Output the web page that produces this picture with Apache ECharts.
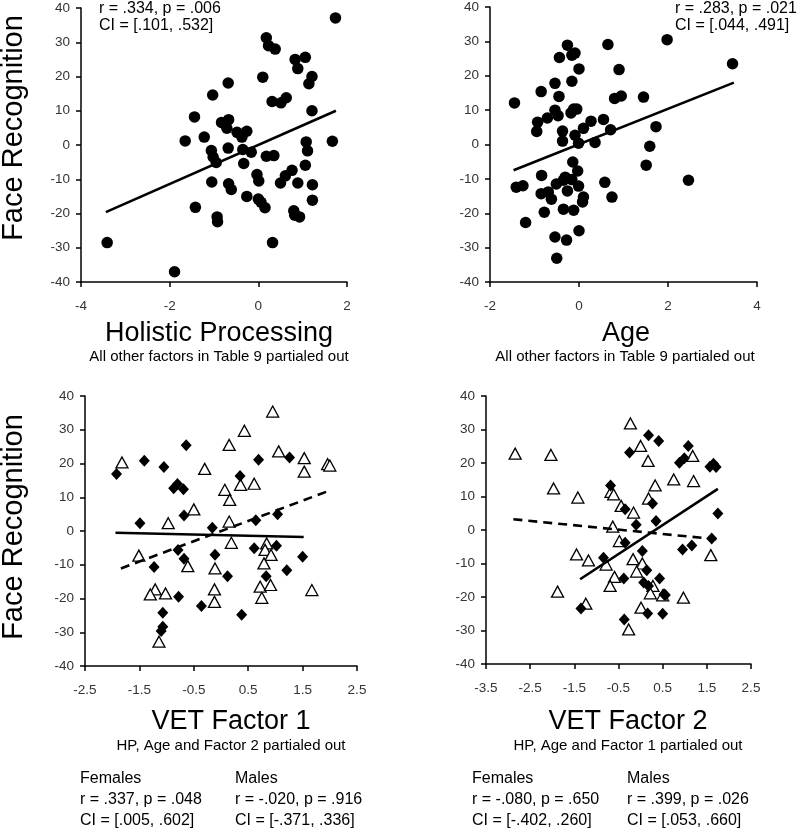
<!DOCTYPE html>
<html><head><meta charset="utf-8">
<script src="https://cdn.jsdelivr.net/npm/echarts@6/dist/echarts.min.js"></script>
<style>html,body{margin:0;padding:0;background:#fff}#c{width:800px;height:834px}</style>
</head><body><div id="c"></div>
<script>
// ---- Panel 1: Holistic Processing ----
const hpX = [-3.41,-1.89,1.74,0.18,0.23,0.38,0.10,0.83,0.89,1.06,1.21,1.14,0.31,0.51,0.63,1.21,-0.68,-1.03,-1.44,-1.65,-1.22,-0.83,-0.67,-0.71,-0.48,-0.37,-0.26,-1.06,-1.02,-0.95,-0.68,-0.35,-0.16,-0.33,-1.05,-0.67,-0.61,-0.26,-1.42,-0.93,-0.92,-0.03,0.01,0.00,0.06,0.15,0.18,0.35,0.32,0.50,0.61,0.76,0.89,0.80,0.82,0.93,1.08,1.11,1.06,1.22,1.22,1.67];
const hpY = [-28.5,-37.0,37.1,31.3,29.0,28.0,19.8,25.0,22.3,25.6,20.0,17.9,12.7,12.3,13.8,10.0,18.1,14.6,8.2,1.2,2.3,6.6,7.4,4.9,3.7,2.3,4.0,-1.6,-3.5,-5.1,-0.9,-1.3,-2.1,-5.4,-10.8,-11.3,-13.0,-15.0,-18.2,-21.0,-22.4,-8.6,-10.5,-15.8,-16.7,-18.3,-3.3,-3.1,-28.5,-11.1,-9.0,-7.4,-11.1,-19.2,-20.5,-21.0,0.9,-1.7,-5.9,-11.6,-16.1,1.1];
const hpFitX = [-3.44, 1.75];
const hpFitY = [-19.6, 10.0];

// ---- Panel 2: Age ----
const ageX = [-1.45,-1.41,-1.26,-1.20,-0.85,-0.93,-0.95,-0.71,-0.54,-0.47,-0.54,-0.45,-0.44,-0.26,-0.16,-0.09,-0.16,0.00,-0.18,-0.12,-0.05,-0.37,-0.37,-0.09,-0.01,0.10,0.27,0.36,0.55,0.71,0.65,0.80,0.95,0.90,1.45,1.73,1.59,1.51,1.98,2.46,3.45,-0.84,-0.85,-0.69,-0.62,-0.78,-0.51,-0.31,-0.35,-0.26,-0.16,-0.14,-0.03,-0.01,0.10,0.08,-0.35,-0.12,-0.54,-0.28,0.00,-0.50,0.58,0.74];
const ageY = [12.1,-12.4,-12.0,-22.7,15.4,6.5,3.8,7.7,10.0,8.4,17.8,14.0,25.3,28.9,26.0,26.6,18.4,22.0,9.2,10.3,10.3,3.9,1.0,2.7,0.4,4.7,6.8,0.6,7.3,4.3,29.1,13.4,14.1,21.8,13.8,5.2,-0.5,-6.0,30.5,-10.4,23.5,-9.0,-14.3,-13.8,-15.9,-19.7,-11.5,-9.5,-10.4,-13.5,-10.2,-5.1,-7.7,-12.1,-15.3,-16.7,-18.8,-19.1,-26.9,-27.8,-25.1,-33.1,-11.0,-15.3];
const ageFitX = [-1.47, 3.48];
const ageFitY = [-7.5, 18.0];

// ---- Panel 3: VET Factor 1 ----
const f1FemX = [-1.82,-1.51,-0.97,-0.50,-0.61,-0.30,-0.11,0.15,0.43,0.07,0.16,0.36,0.15,0.19,0.61,0.95,1.06,1.53,1.53,1.96,2.00,0.84,0.81,0.92,0.79,1.67,-1.21,-1.30,-1.02,-1.14,-0.12,-0.12,0.72,0.91,0.75];
const f1FemY = [20.3,-7.3,2.3,6.4,-10.4,18.4,-11.1,25.5,29.7,12.2,9.2,13.7,2.8,-3.5,14.0,35.4,23.6,21.6,17.6,19.8,19.4,-3.7,-5.6,-7.1,-9.6,-17.5,-17.3,-18.8,-18.5,-32.8,-17.3,-21.0,-16.5,-16.0,-19.8];
const f1MaleX = [-1.92,-1.41,-1.49,-1.05,-0.87,-0.80,-0.69,-0.64,-0.68,-0.79,-0.68,-1.23,-0.16,-0.11,0.35,0.69,0.64,0.61,1.04,1.26,1.02,1.50,1.21,0.83,0.12,-0.78,-0.36,-1.07,0.38,-1.07,-1.10];
const f1MaleY = [16.9,20.8,2.3,19.0,12.7,13.9,12.4,25.4,4.6,-5.6,-8.2,-10.7,1.0,-7.0,16.3,21.1,3.2,-5.1,5.0,21.8,-4.4,-7.6,-11.6,-13.4,-13.4,-19.5,-22.2,-24.2,-24.8,-28.4,-29.6];
const f1FemFitX = [-1.84, 2.0];
const f1FemFitY = [-11.1, 12.0];
const f1MaleFitX = [-1.94, 1.52];
const f1MaleFitY = [-0.5, -1.8];

// ---- Panel 4: VET Factor 2 ----
const f2FemX = [-2.84,-2.03,-1.97,-1.42,-0.23,0.00,0.17,1.18,-0.67,-0.61,-0.44,-0.16,0.18,0.33,0.75,1.20,-0.63,-0.48,-1.45,-1.18,-0.78,-0.17,0.04,-0.09,1.59,-0.59,-0.69,-1.88,-1.24,0.01,0.28,0.22,0.50,0.97,-0.27];
const f2FemY = [22.8,22.4,12.4,9.7,31.8,25.1,20.6,22.1,11.4,10.6,7.2,5.2,9.4,13.3,15.1,14.6,1.0,-3.3,-7.3,-9.1,-10.3,-8.7,-10.0,-12.4,-7.5,-14.0,-16.7,-18.4,-22.0,-23.2,-16.7,-18.9,-19.5,-20.2,-29.7];
const f2MaleX = [-0.68,-0.35,-0.25,0.18,0.41,0.27,-0.10,0.35,-0.35,-0.84,0.04,0.14,0.43,-0.38,0.07,0.18,0.56,0.88,0.99,1.08,1.57,1.65,1.71,1.75,0.95,1.16,1.61,-1.35,0.16,0.50,-0.37,0.53];
const f2MaleY = [13.3,6.2,23.1,28.3,26.6,7.9,1.6,2.7,-3.8,-8.3,-6.3,-12.0,-14.5,-14.5,-15.7,-16.7,-19.4,20.1,21.4,25.1,18.9,19.8,18.8,4.9,-5.8,-4.6,-2.5,-23.4,-24.9,-25.0,-26.7,-19.2];
const f2FemFitX = [-2.88, 1.75];
const f2FemFitY = [3.2, -2.8];
const f2MaleFitX = [-1.37, 1.75];
const f2MaleFitY = [-14.7, 12.3];

// ---- Axes ticks ----
const yRange = [-40, 40], yStep = 10;
const hpXRange = [-4, 2], hpXStep = 2;
const ageXRange = [-2, 4], ageXStep = 2;
const f1XRange = [-2.5, 2.5], f1XStep = 1;
const f2XRange = [-3.5, 2.5], f2XStep = 1;

// ---- Texts ----
const yTitle = 'Face Recognition';
const titles = ['Holistic Processing', 'Age', 'VET Factor 1', 'VET Factor 2'];
const subtitles = ['All other factors in Table 9 partialed out', 'All other factors in Table 9 partialed out',
  'HP, Age and Factor 2 partialed out', 'HP, Age and Factor 1 partialed out'];
const statsTop = [['r = .334, p = .006', 'CI = [.101, .532]'], ['r = .283, p = .021', 'CI = [.044, .491]']];
const statsBottom = [
  [['Females', 'r = .337, p = .048', 'CI = [.005, .602]'], ['Males', 'r = -.020, p = .916', 'CI = [-.371, .336]']],
  [['Females', 'r = -.080, p = .650', 'CI = [-.402, .260]'], ['Males', 'r = .399, p = .026', 'CI = [.053, .660]']]
];

const zip = (a, b) => a.map((v, i) => [v, b[i]]);
const FONT = 'Liberation Sans, Arial, sans-serif';

const grids = [
  {left: 81, top: 8, width: 266, height: 274},
  {left: 490, top: 7, width: 267, height: 275},
  {left: 85, top: 396, width: 272, height: 270},
  {left: 486, top: 396, width: 265, height: 268}
];
const xr = [[hpXRange, hpXStep], [ageXRange, ageXStep], [f1XRange, f1XStep], [f2XRange, f2XStep]];

function axisCommon() {
  return {
    type: 'value',
    axisLine: {show: true, onZero: false, lineStyle: {color: '#000', width: 1.5}},
    axisTick: {show: true, length: 5, lineStyle: {color: '#000', width: 1.5}},
    splitLine: {show: false}
  };
}
const xAxes = xr.map((r, i) => Object.assign(axisCommon(), {
  gridIndex: i, min: r[0][0], max: r[0][1], interval: r[1],
  axisLabel: {color: '#333', fontSize: 13.5, fontFamily: FONT, margin: 17, showMinLabel: true, showMaxLabel: true}
}));
const yAxes = grids.map((g, i) => Object.assign(axisCommon(), {
  gridIndex: i, min: yRange[0], max: yRange[1], interval: yStep,
  axisLabel: {color: '#333', fontSize: 13.5, fontFamily: FONT, margin: 11}
}));

function scatter(i, x, y, kind) {
  const s = {type: 'scatter', xAxisIndex: i, yAxisIndex: i, data: zip(x, y), z: 2};
  if (kind === 'circle') { s.symbol = 'circle'; s.symbolSize = 11.5; s.itemStyle = {color: '#000', opacity: 1}; }
  if (kind === 'diamond') { s.symbol = 'diamond'; s.symbolSize = [11, 12]; s.itemStyle = {color: '#000', opacity: 1}; }
  if (kind === 'triangle') { s.symbol = 'triangle'; s.symbolSize = [12, 11]; s.itemStyle = {color: '#fff', borderColor: '#000', borderWidth: 1.3, opacity: 1}; }
  return s;
}
function fit(i, x, y, dashed) {
  return {type: 'line', xAxisIndex: i, yAxisIndex: i, data: zip(x, y), symbol: 'none', z: 3,
    lineStyle: {color: '#000', width: 2.6, type: dashed ? [9, 6] : 'solid'}};
}

const series = [
  scatter(0, hpX, hpY, 'circle'), fit(0, hpFitX, hpFitY, false),
  scatter(1, ageX, ageY, 'circle'), fit(1, ageFitX, ageFitY, false),
  scatter(2, f1FemX, f1FemY, 'triangle'), scatter(2, f1MaleX, f1MaleY, 'diamond'),
  fit(2, f1FemFitX, f1FemFitY, true), fit(2, f1MaleFitX, f1MaleFitY, false),
  scatter(3, f2FemX, f2FemY, 'triangle'), scatter(3, f2MaleX, f2MaleY, 'diamond'),
  fit(3, f2FemFitX, f2FemFitY, true), fit(3, f2MaleFitX, f2MaleFitY, false)
];

function txt(text, x, y, size, align, opts) {
  return Object.assign({type: 'text', x: x, y: y, silent: true,
    style: {text: text, fill: '#000', font: size + 'px ' + FONT, align: align || 'center', verticalAlign: 'middle'}}, opts || {});
}
const graphics = [
  txt(yTitle, 14, 128, 29, 'center', {rotation: Math.PI / 2}),
  txt(yTitle, 14, 527, 29, 'center', {rotation: Math.PI / 2}),
  txt(titles[0], 219, 334, 27), txt(subtitles[0], 219, 357, 15),
  txt(titles[1], 626, 334, 27), txt(subtitles[1], 625, 357, 15),
  txt(titles[2], 231, 722, 27), txt(subtitles[2], 231, 746, 15),
  txt(titles[3], 628, 722, 27), txt(subtitles[3], 628, 746, 15),
  txt(statsTop[0][0], 99, 9, 16, 'left'), txt(statsTop[0][1], 99, 26, 16, 'left'),
  txt(statsTop[1][0], 675, 9, 16, 'left'), txt(statsTop[1][1], 675, 26, 16, 'left')
];
const colX = [[80, 235], [472, 627]];
const rowY = [779, 800, 821];
statsBottom.forEach((panel, p) => panel.forEach((col, c) => col.forEach((line, r) => {
  graphics.push(txt(line, colX[p][c], rowY[r], 16, 'left'));
})));

const chart = echarts.init(document.getElementById('c'), null, {renderer: 'canvas'});
chart.setOption({
  animation: false,
  backgroundColor: '#fff',
  grid: grids,
  xAxis: xAxes,
  yAxis: yAxes,
  series: series,
  graphic: graphics
});
</script></body></html>
